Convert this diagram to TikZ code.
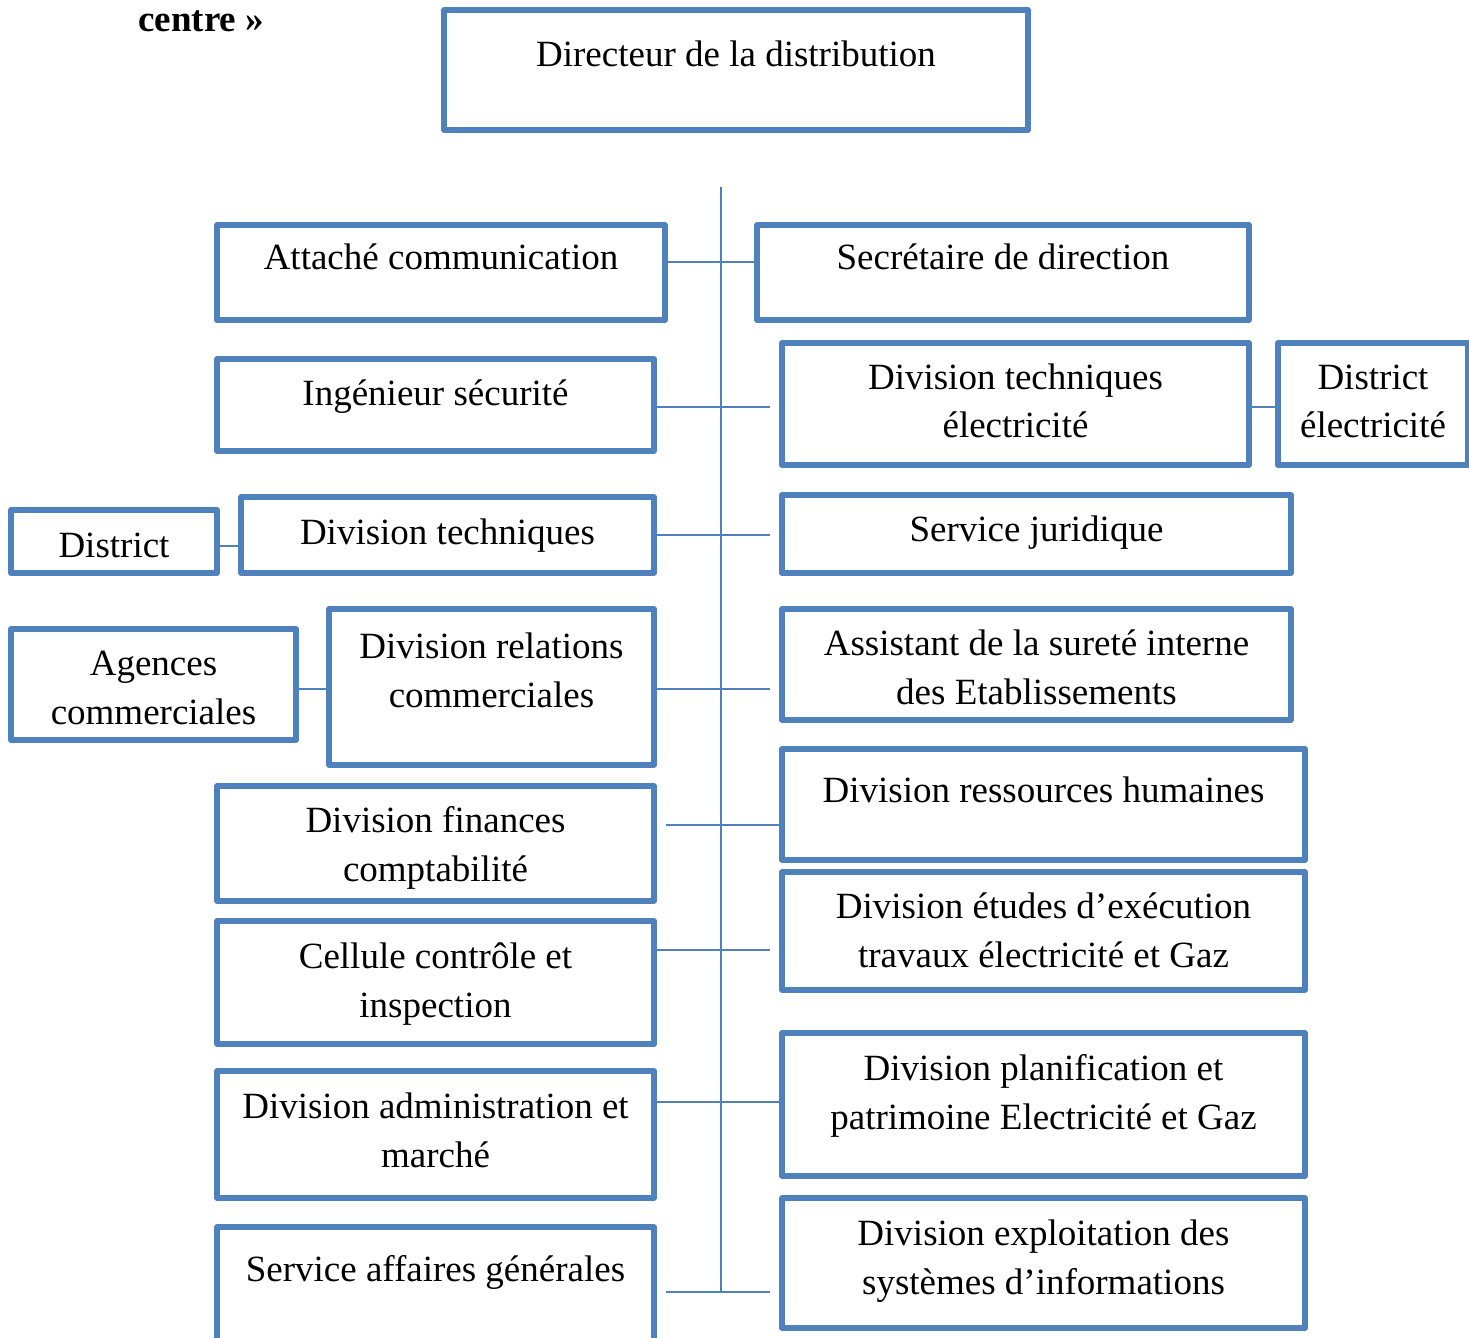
\documentclass[tikz,border=0pt]{standalone}
\usepackage{fontspec}
\setmainfont{Liberation Serif}
\usetikzlibrary{fit}
\definecolor{orgblue}{RGB}{79,129,189}
\newcommand\twol[2]{\begin{tabular}[t]{@{}c@{}}#1\\#2\end{tabular}}
% name, x1, y1, x2, y2, baseline of first line, text
\newcommand\orgbox[7]{%
  \node[box, fit={(#2,#3) (#4,#5)}] (#1) {};
  \node[lbl] (#1-t) at (#1.north |- 0,#6) {#7};}
\begin{document}
\begin{tikzpicture}[x=0.5pt,y=-0.5pt,
  box/.style={draw=orgblue, line width=2.7pt, line join=round, inner sep=0pt, outer sep=0pt},
  lbl/.style={anchor=base, inner sep=0pt, font=\fontsize{18.5}{24.5}\selectfont},
  link/.style={draw=orgblue, line width=0.9pt}]
\clip (0,0) rectangle (1469,1338);
\fill[white] (0,0) rectangle (1469,1338);

\node[anchor=base west, inner sep=0pt, font=\fontsize{18.5}{24.5}\selectfont\bfseries] (head) at (138,32) {centre »};

% top of the hierarchy
\orgbox{dir}{444}{10}{1028}{130}{67}{Directeur de la distribution}

% left column
\orgbox{att}{217}{225}{665}{320}{270}{Attaché communication}
\orgbox{ing}{217}{359}{654}{451}{405}{Ingénieur sécurité}
\orgbox{dis}{11}{510}{217}{573}{557}{District}
\orgbox{dt}{241}{497}{654}{573}{544}{Division techniques}
\orgbox{ag}{11}{629}{296}{740}{675}{\twol{Agences}{commerciales}}
\orgbox{drc}{329}{609}{654}{765}{658}{\twol{Division relations}{commerciales}}
\orgbox{dfc}{217}{786}{654}{901}{832}{\twol{Division finances}{comptabilité}}
\orgbox{ccc}{217}{921}{654}{1044}{968}{\twol{Cellule contrôle et}{inspection}}
\orgbox{dam}{217}{1071}{654}{1198}{1118}{\twol{Division administration et}{marché}}
\orgbox{saf}{217}{1227}{654}{1350}{1281}{Service affaires générales}

% right column
\orgbox{sec}{757}{225}{1249}{320}{270}{Secrétaire de direction}
\orgbox{dte}{782}{343}{1249}{465}{389}{\twol{Division techniques}{électricité}}
\orgbox{dde}{1278}{343}{1468}{465}{389}{\twol{District}{électricité}}
\orgbox{sj}{782}{495}{1291}{573}{541}{Service juridique}
\orgbox{ast}{782}{609}{1291}{720}{655}{\twol{Assistant de la sureté interne}{des Etablissements}}
\orgbox{drh}{782}{749}{1305}{860}{802}{Division ressources humaines}
\orgbox{dee}{782}{872}{1305}{990}{918}{\twol{Division études d’exécution}{travaux électricité et Gaz}}
\orgbox{dpp}{782}{1033}{1305}{1176}{1080}{\twol{Division planification et}{patrimoine Electricité et Gaz}}
\orgbox{des}{782}{1198}{1305}{1328}{1245}{\twol{Division exploitation des}{systèmes d’informations}}

% spine and branch ends
\coordinate (spTop) at (721,187);
\coordinate (spBot) at (721,1292);
\coordinate (eIng) at (770,407);
\coordinate (eDt)  at (770,535);
\coordinate (eDrc) at (770,689);
\coordinate (sDfc) at (666,825);
\coordinate (eCcc) at (770,950);
\coordinate (sSaf) at (666,1292);
\coordinate (eSaf) at (770,1292);

\draw[link] (spTop) -- (spBot);
\draw[link] (att.east |- 0,262) -- (sec.west |- 0,262);
\draw[link] (ing.east |- eIng) -- (eIng);
\draw[link] (dte.east |- 0,407) -- (dde.west |- 0,407);
\draw[link] (dis.east |- 0,546) -- (dt.west |- 0,546);
\draw[link] (dt.east |- eDt) -- (eDt);
\draw[link] (ag.east |- 0,689) -- (drc.west |- 0,689);
\draw[link] (drc.east |- eDrc) -- (eDrc);
\draw[link] (sDfc) -- (drh.west |- sDfc);
\draw[link] (ccc.east |- eCcc) -- (eCcc);
\draw[link] (dam.east |- 0,1102) -- (dpp.west |- 0,1102);
\draw[link] (sSaf) -- (eSaf);
\end{tikzpicture}
\end{document}
